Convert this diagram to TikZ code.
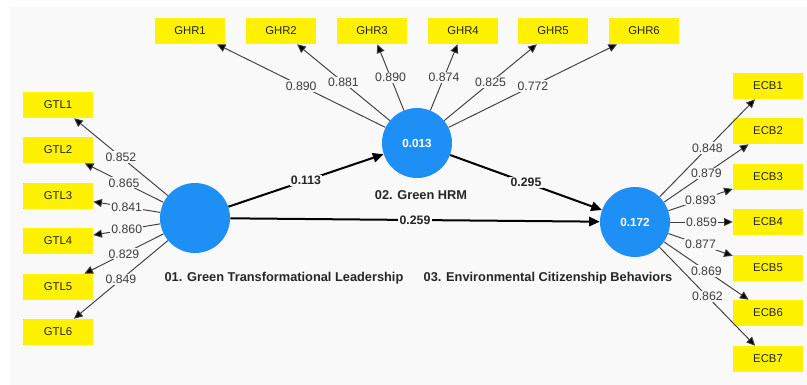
\documentclass[tikz,border=0pt]{standalone}
\usepackage{fontspec}
\setmainfont{Liberation Sans}
\usepackage{xcolor}
\usetikzlibrary{shapes, arrows.meta, positioning}

\definecolor{lvblue}{RGB}{30,144,245}
\definecolor{canvas}{RGB}{249,249,249}
\definecolor{loadgray}{RGB}{60,60,60}

\begin{document}
\begin{tikzpicture}[x=0.75pt, y=-0.75pt,
    indicator/.style={rectangle, fill=yellow, minimum width=52.5pt, minimum height=19.5pt, inner sep=0pt, text=black!85, font=\fontsize{8.5}{10}\selectfont},
    construct/.style={circle, fill=lvblue, minimum size=52.5pt, inner sep=0pt, text=white, font=\bfseries\fontsize{8.8}{10}\selectfont},
    lvname/.style={font=\bfseries\fontsize{9.6}{11}\selectfont, text=black!85},
    loading/.style={-{Triangle[length=6.5pt, width=6pt]}, draw=loadgray, line width=0.7pt},
    coef/.style={-{Triangle[length=8pt, width=7pt]}, draw=black, line width=1.5pt},
    val/.style={fill=canvas, inner sep=1pt, text=loadgray, font=\fontsize{9.2}{10}\selectfont},
    pathval/.style={fill=canvas, inner sep=1pt, text=black!85, font=\bfseries\fontsize{9.2}{10}\selectfont}]
        \useasboundingbox (0,0) rectangle (807,385);
        \fill[white] (0,0) rectangle (807,385);
        \fill[canvas] (10,7) rectangle (807,385);

        % latent variables
        \node [construct] (gtl) at (195, 218) {};
        \node [construct] (ghrm) at (417, 143) {0.013};
        \node [construct] (ecb) at (635, 222) {0.172};
        \node [lvname] (gtlname) at (284, 278) {01. Green Transformational Leadership};
        \node [lvname] (ghrmname) at (421, 195) {02. Green HRM};
        \node [lvname] (ecbname) at (548, 278) {03. Environmental Citizenship Behaviors};

        % indicators of GTL
        \node [indicator] (gtl1) at (58, 105) {GTL1};
        \node [indicator] (gtl2) at (58, 150) {GTL2};
        \node [indicator] (gtl3) at (58, 196) {GTL3};
        \node [indicator] (gtl4) at (58, 241) {GTL4};
        \node [indicator] (gtl5) at (58, 287) {GTL5};
        \node [indicator] (gtl6) at (58, 332) {GTL6};

        % indicators of GHR
        \node [indicator] (ghr1) at (190, 31) {GHR1};
        \node [indicator] (ghr2) at (281, 31) {GHR2};
        \node [indicator] (ghr3) at (372, 31) {GHR3};
        \node [indicator] (ghr4) at (463, 31) {GHR4};
        \node [indicator] (ghr5) at (553, 31) {GHR5};
        \node [indicator] (ghr6) at (644, 31) {GHR6};

        % indicators of ECB
        \node [indicator] (ecb1) at (768, 86) {ECB1};
        \node [indicator] (ecb2) at (768, 131) {ECB2};
        \node [indicator] (ecb3) at (768, 177) {ECB3};
        \node [indicator] (ecb4) at (768, 222) {ECB4};
        \node [indicator] (ecb5) at (768, 268) {ECB5};
        \node [indicator] (ecb6) at (768, 313) {ECB6};
        \node [indicator] (ecb7) at (768, 359) {ECB7};

        % outer loadings
        \path [loading] (gtl) edge node [val] {0.852} (gtl1);
        \path [loading] (gtl) edge node [val] {0.865} (gtl2);
        \path [loading] (gtl) edge node [val] {0.841} (gtl3);
        \path [loading] (gtl) edge node [val] {0.860} (gtl4);
        \path [loading] (gtl) edge node [val] {0.829} (gtl5);
        \path [loading] (gtl) edge node [val] {0.849} (gtl6);

        \path [loading] (ghrm) edge node [val] {0.890} (ghr1);
        \path [loading] (ghrm) edge node [val] {0.881} (ghr2);
        \path [loading] (ghrm) edge node [val] {0.890} (ghr3);
        \path [loading] (ghrm) edge node [val] {0.874} (ghr4);
        \path [loading] (ghrm) edge node [val] {0.825} (ghr5);
        \path [loading] (ghrm) edge node [val] {0.772} (ghr6);

        \path [loading] (ecb) edge node [val] {0.848} (ecb1);
        \path [loading] (ecb) edge node [val] {0.879} (ecb2);
        \path [loading] (ecb) edge node [val] {0.893} (ecb3);
        \path [loading] (ecb) edge node [val] {0.859} (ecb4);
        \path [loading] (ecb) edge node [val] {0.877} (ecb5);
        \path [loading] (ecb) edge node [val] {0.869} (ecb6);
        \path [loading] (ecb) edge node [val] {0.862} (ecb7);

        % structural paths
        \path [coef] (gtl) edge node [pathval] {0.113} (ghrm);
        \path [coef] (ghrm) edge node [pathval] {0.295} (ecb);
        \path [coef] (gtl) edge node [pathval] {0.259} (ecb);
    \end{tikzpicture}
\end{document}
